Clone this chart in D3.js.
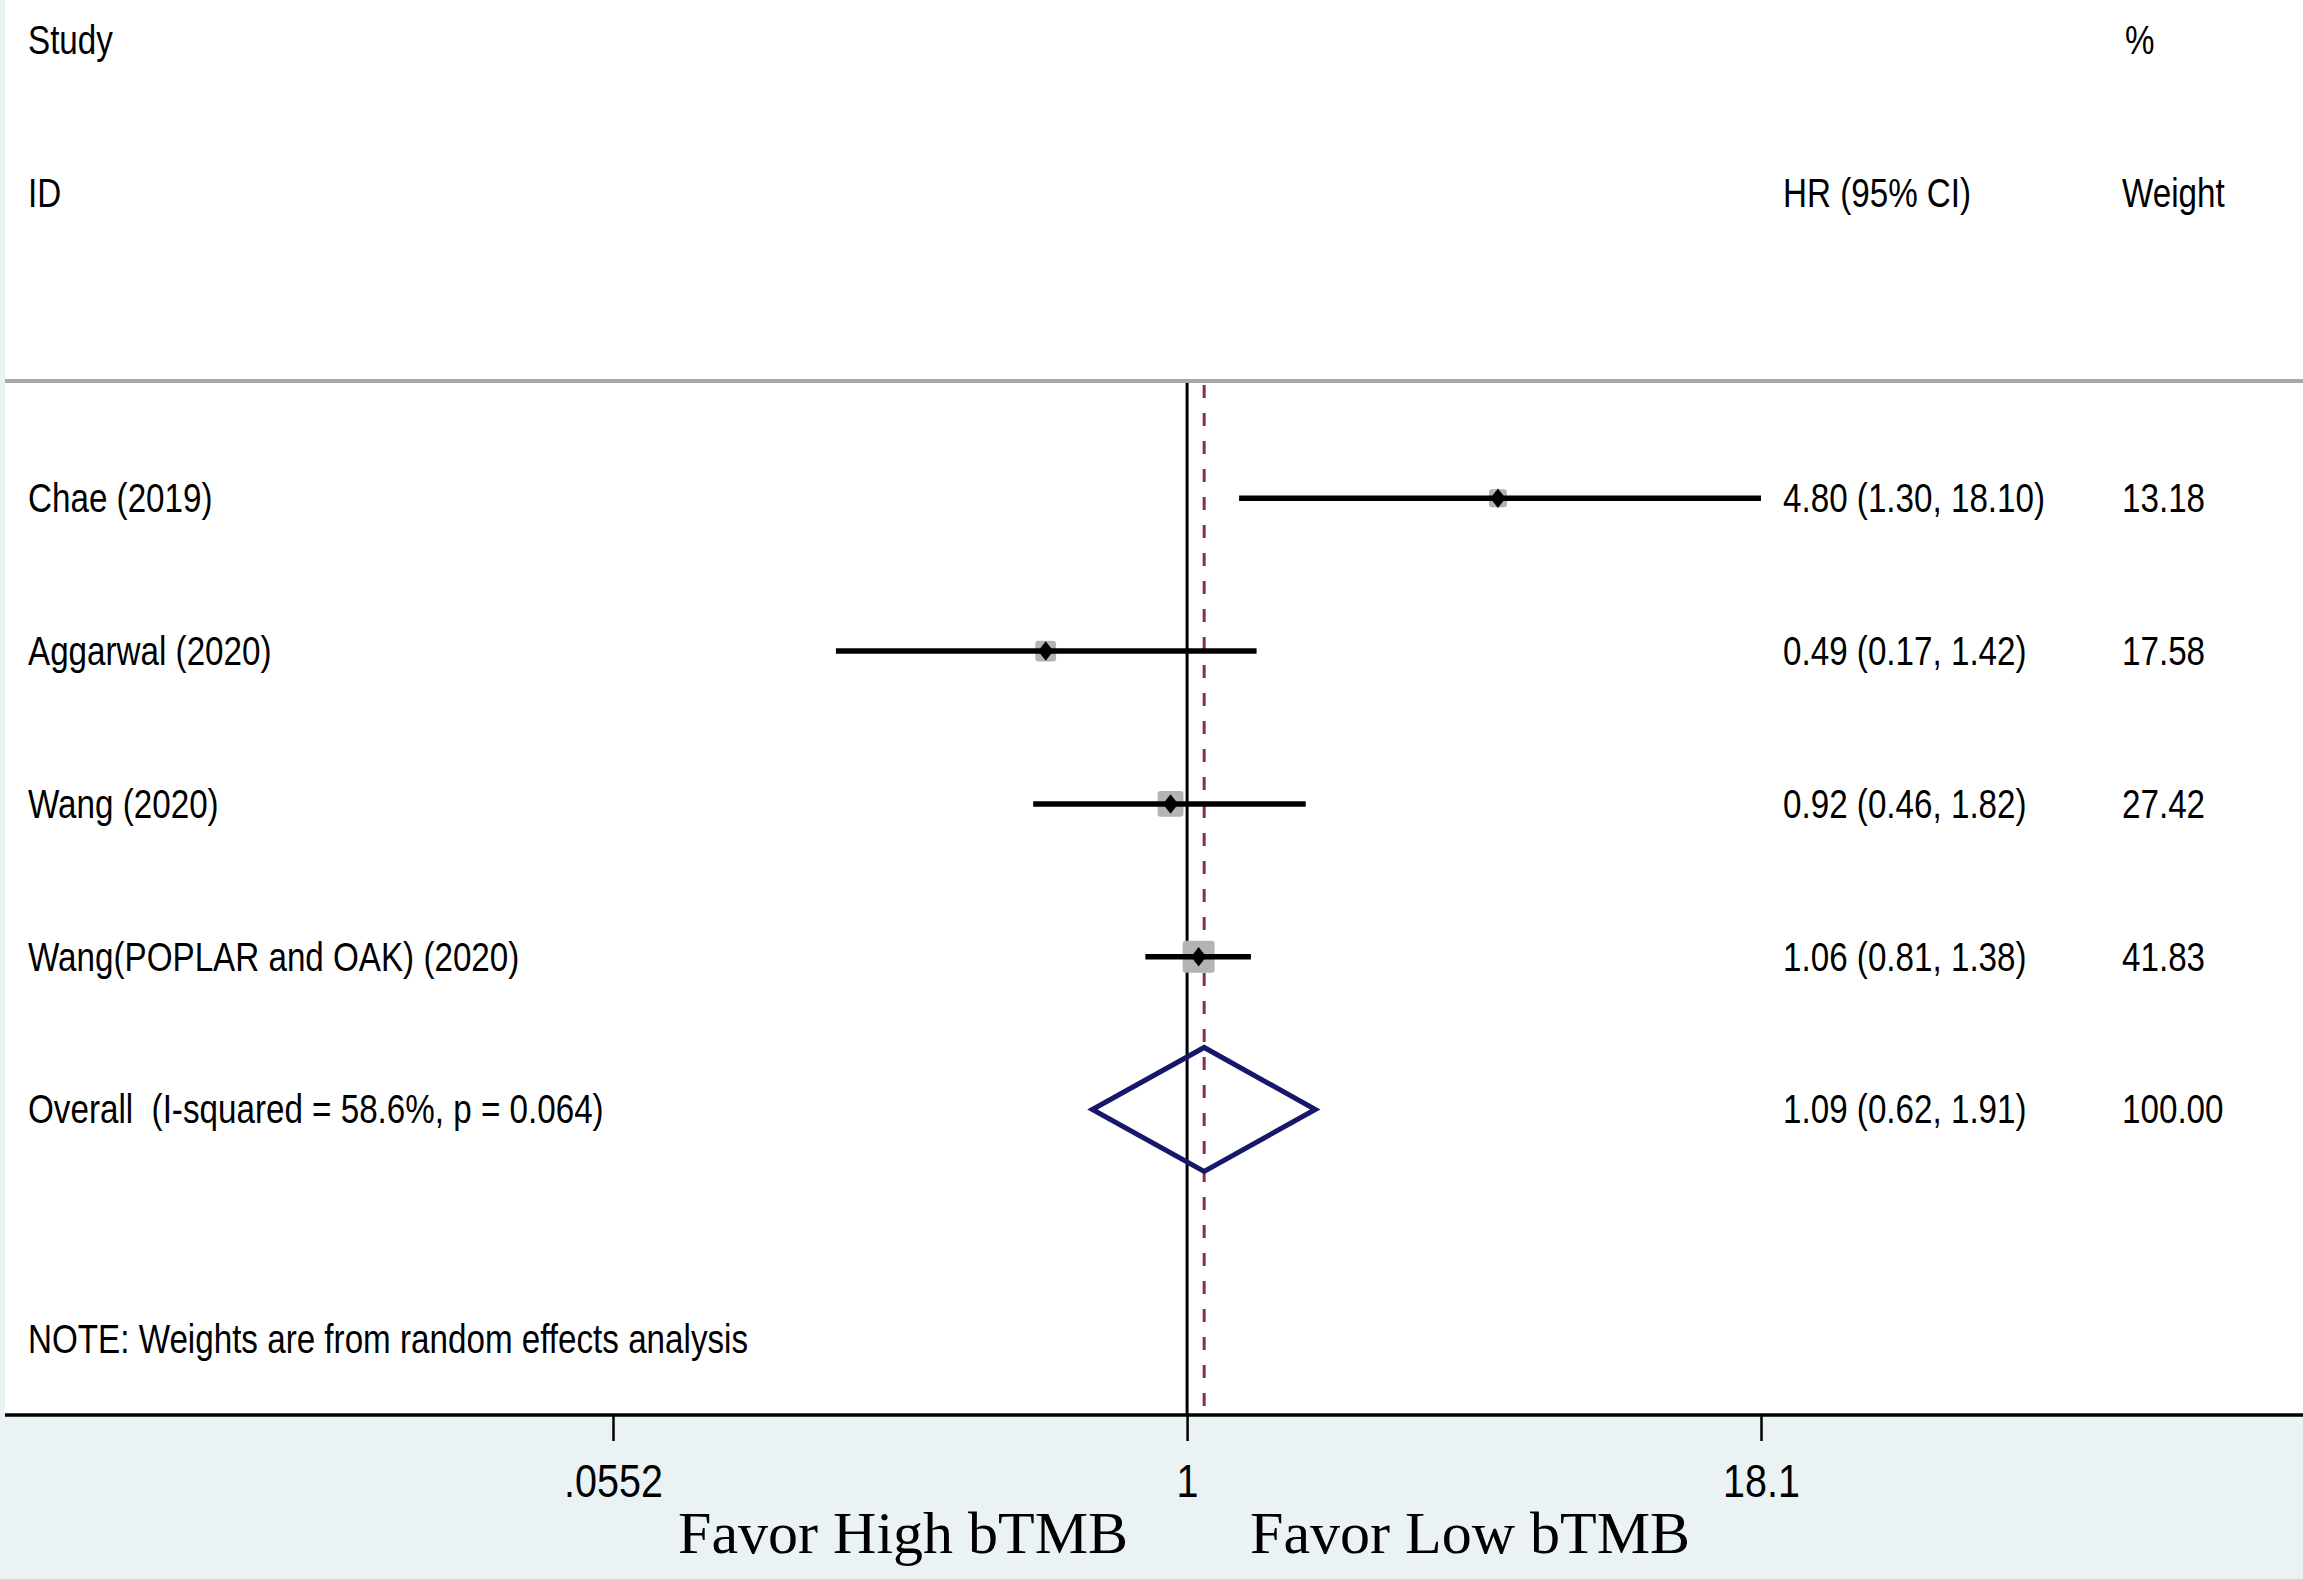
<!DOCTYPE html>
<html>
<head>
<meta charset="utf-8">
<script src="https://cdn.jsdelivr.net/npm/d3@7/dist/d3.min.js"></script>
<style>
  body{margin:0;background:#eaf2f3}
  svg{display:block}
  text{fill:#000;white-space:pre}
</style>
</head>
<body>
<div id="chart"></div>
<script>
// study rows
const studies = ["Chae (2019)","Aggarwal (2020)","Wang (2020)","Wang(POPLAR and OAK) (2020)"]
const hr = [4.80,0.49,0.92,1.06]
const lower = [1.30,0.17,0.46,0.81]
const upper = [18.10,1.42,1.82,1.38]
const weights = [13.18,17.58,27.42,41.83]

// pooled estimate
const overallLabel = "Overall  (I-squared = 58.6%, p = 0.064)"
const overallHr = 1.09
const overallLower = 0.62
const overallUpper = 1.91
const overallWeight = 100.00

const tickValues = [0.0552,1,18.1]
const tickLabels = [".0552","1","18.1"]
const noteText = "NOTE: Weights are from random effects analysis"
const axisTitles = ["Favor High bTMB","Favor Low bTMB"]

const SANS = "'Liberation Sans',Arial,sans-serif"
const SERIF = "'Liberation Serif','Times New Roman',serif"

drawForest("#chart")

function drawForest(id){
    const canvas = createCanvas()
    const svg = d3.select(id).append("svg")
        .attr("width",canvas.width).attr("height",canvas.height)

    const x = d3.scaleLog().domain([tickValues[0],tickValues[2]]).range([613,1761])
    const y = d3.scaleLinear().domain([-3,6]).range([40,canvas.axisY])
    const boxSize = d3.scaleSqrt().domain([0,d3.max(weights)]).range([0,32])

    const rows = studies.map((s,j)=>({
        label:s, hr:hr[j], lower:lower[j], upper:upper[j], weight:weights[j], idx:j
    }))

    addBackground(svg,canvas)
    addHeaders(svg,canvas,y)
    addRefLines(svg,canvas,x,y)
    addStudies(svg,canvas,rows,x,y,boxSize)
    addOverall(svg,canvas,x,y)
    addAxis(svg,canvas,x)
}

function createCanvas(){
    return {
        width:2303, height:1579, left:5, axisY:1415, sepY:381,
        labelX:28, hrX:1783, weightX:2122, fontSize:40, squeeze:0.83
    }
}

function addText(svg,canvas,xPos,yPos,str,anchor){
    svg.append("text")
        .attr("transform",`translate(${xPos},${yPos + 14}) scale(${canvas.squeeze},1)`)
        .style("font-family",SANS)
        .attr("font-size",canvas.fontSize+"px")
        .attr("text-anchor",anchor || "start")
        .text(str)
}

function addBackground(svg,canvas){
    svg.append("rect").attr("x",0).attr("y",0).attr("width",canvas.width).attr("height",canvas.height)
        .attr("fill","#eaf2f3")
    svg.append("rect").attr("x",canvas.left).attr("y",0)
        .attr("width",canvas.width-canvas.left).attr("height",canvas.axisY)
        .attr("fill","#fff")
    svg.append("line").attr("x1",canvas.left).attr("x2",canvas.width)
        .attr("y1",canvas.sepY).attr("y2",canvas.sepY)
        .attr("stroke","#a8a8a8").attr("stroke-width",4)
}

function addHeaders(svg,canvas,y){
    addText(svg,canvas,canvas.labelX,y(-3),"Study")
    addText(svg,canvas,canvas.labelX,y(-2),"ID")
    addText(svg,canvas,canvas.hrX,y(-2),"HR (95% CI)")
    addText(svg,canvas,canvas.weightX+3,y(-3),"%")
    addText(svg,canvas,canvas.weightX,y(-2),"Weight")
    addText(svg,canvas,canvas.labelX,y(5.5),noteText)
}

function addRefLines(svg,canvas,x,y){
    svg.append("line").attr("x1",x(1)).attr("x2",x(1))
        .attr("y1",canvas.sepY+2).attr("y2",canvas.axisY)
        .attr("stroke","#000").attr("stroke-width",3)
    svg.append("line").attr("x1",x(overallHr)).attr("x2",x(overallHr))
        .attr("y1",canvas.sepY+4).attr("y2",canvas.axisY)
        .attr("stroke","#85343f").attr("stroke-width",3)
        .attr("stroke-dasharray","13,15")
}

function addStudies(svg,canvas,rows,x,y,boxSize){
    svg.selectAll(".box").data(rows).enter().append("rect").attr("class","box")
        .attr("x",d => x(d.hr) - boxSize(d.weight)/2)
        .attr("y",d => y(d.idx) - boxSize(d.weight)/2)
        .attr("width",d => boxSize(d.weight)).attr("height",d => boxSize(d.weight))
        .attr("rx",3).attr("fill","#b3b3b3")

    svg.selectAll(".ci").data(rows).enter().append("line").attr("class","ci")
        .attr("x1",d => x(d.lower)).attr("x2",d => x(d.upper))
        .attr("y1",d => y(d.idx)).attr("y2",d => y(d.idx))
        .attr("stroke","#000").attr("stroke-width",5.5)

    svg.selectAll(".pt").data(rows).enter().append("path").attr("class","pt")
        .attr("d",d3.symbol(d3.symbolDiamond,110))
        .attr("transform",d => `translate(${x(d.hr)},${y(d.idx)}) scale(1.35,1)`)
        .attr("fill","#000")

    rows.forEach(d => {
        addText(svg,canvas,canvas.labelX,y(d.idx),d.label)
        addText(svg,canvas,canvas.hrX,y(d.idx),
            `${d.hr.toFixed(2)} (${d.lower.toFixed(2)}, ${d.upper.toFixed(2)})`)
        addText(svg,canvas,canvas.weightX,y(d.idx),d.weight.toFixed(2))
    })
}

function addOverall(svg,canvas,x,y){
    const yc = y(4)
    const pts = [[x(overallLower),yc],[x(overallHr),yc-62],[x(overallUpper),yc],[x(overallHr),yc+62]]
    svg.append("path").attr("d",d3.line()(pts)+"Z")
        .attr("fill","none").attr("stroke","#17176b").attr("stroke-width",5)
        .attr("stroke-linejoin","miter")

    addText(svg,canvas,canvas.labelX,yc,overallLabel)
    addText(svg,canvas,canvas.hrX,yc,
        `${overallHr.toFixed(2)} (${overallLower.toFixed(2)}, ${overallUpper.toFixed(2)})`)
    addText(svg,canvas,canvas.weightX,yc,overallWeight.toFixed(2))
}

function addAxis(svg,canvas,x){
    const axis = d3.axisBottom(x).tickValues(tickValues)
        .tickFormat((d,j) => tickLabels[j]).tickSize(26).tickSizeOuter(0)

    const g = svg.append("g").attr("transform",`translate(0,${canvas.axisY})`).call(axis)
    g.select(".domain").remove()
    g.selectAll(".tick line").attr("stroke","#000").attr("stroke-width",2.5)
    g.selectAll(".tick text")
        .attr("y",82).attr("dy",0)
        .attr("transform","scale(0.84,1)")
        .attr("font-size","47px")
        .style("font-family",SANS)
        .attr("fill","#000")

    svg.append("line").attr("x1",canvas.left).attr("x2",canvas.width)
        .attr("y1",canvas.axisY).attr("y2",canvas.axisY)
        .attr("stroke","#000").attr("stroke-width",3.5)

    svg.append("text").attr("x",x(1)-59).attr("y",1553).attr("text-anchor","end")
        .style("font-family",SERIF).attr("font-size","60px")
        .text(axisTitles[0])
    svg.append("text").attr("x",x(1)+63).attr("y",1553).attr("text-anchor","start")
        .style("font-family",SERIF).attr("font-size","60px")
        .text(axisTitles[1])
}
</script>
</body>
</html>
